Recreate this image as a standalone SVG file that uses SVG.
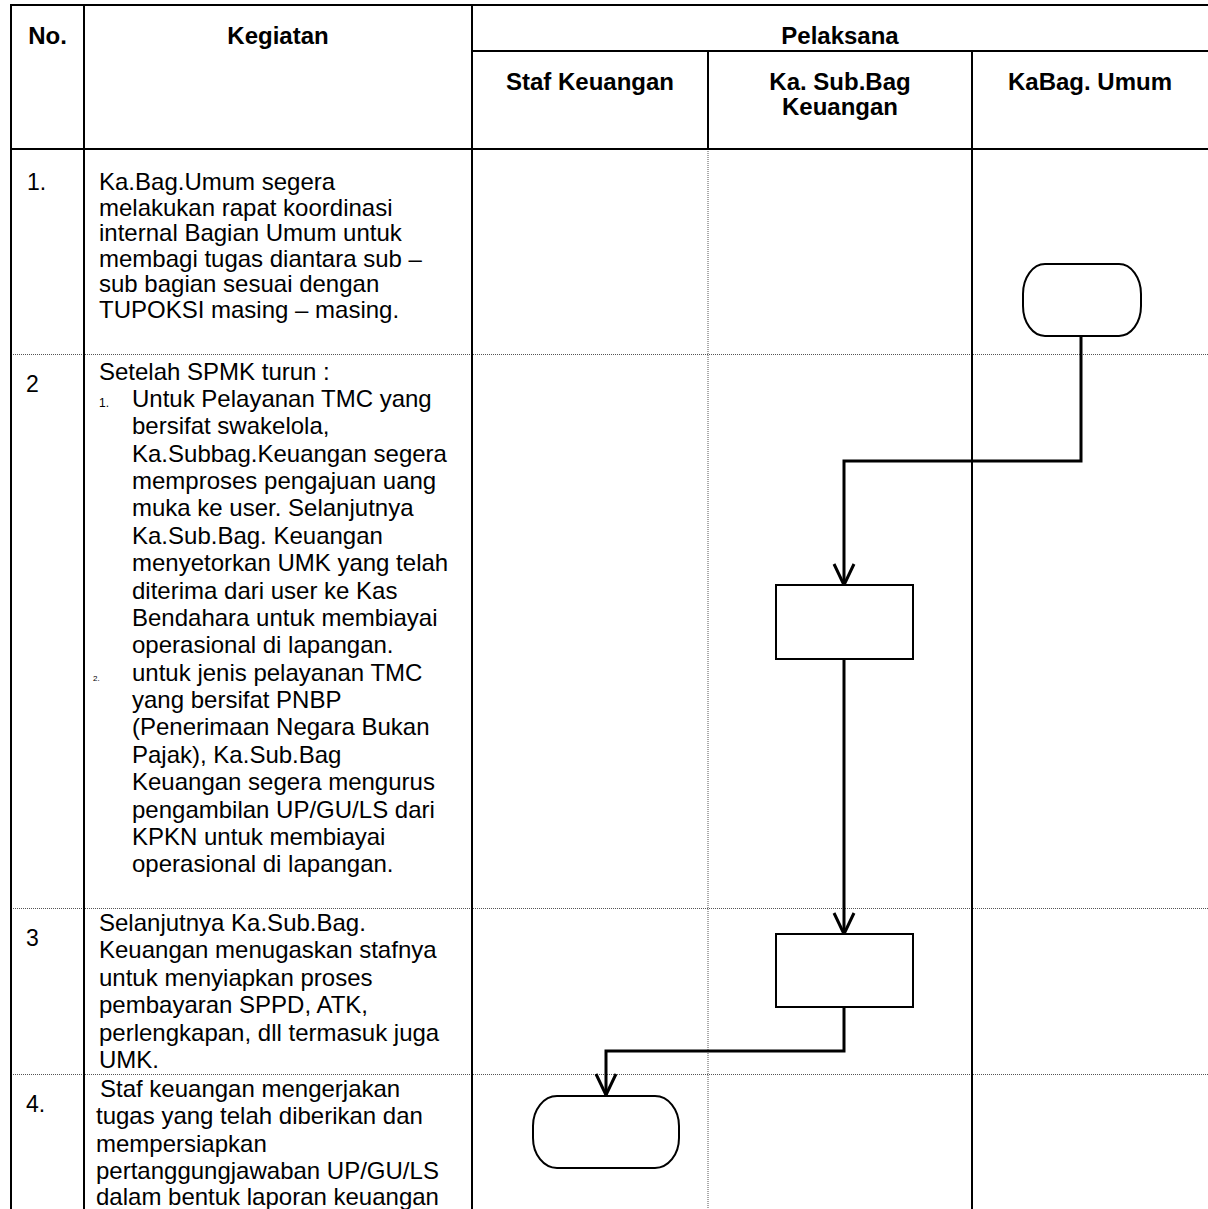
<svg xmlns="http://www.w3.org/2000/svg" width="1208" height="1209" viewBox="0 0 1208 1209">
<style>
.t{font-family:"Liberation Sans",Arial,sans-serif;font-size:24px;fill:#000}
.n{font-family:"Liberation Sans",Arial,sans-serif;font-size:23px;fill:#000}
.h{font-family:"Liberation Sans",Arial,sans-serif;font-size:24px;font-weight:bold;fill:#000;text-anchor:middle}
.solid{stroke:#000;stroke-width:2;fill:none}
.dot{stroke:#555;stroke-width:1;stroke-dasharray:1 1;fill:none}
.shape{fill:#fff;stroke:#000;stroke-width:2}
.conn{fill:none;stroke:#000;stroke-width:3}
</style>
<defs>
<marker id="arr" markerUnits="userSpaceOnUse" markerWidth="40" markerHeight="40" viewBox="-30 -20 40 40" refX="0" refY="0" orient="auto">
<path d="M-21,-10 L0,0 L-21,10" fill="none" stroke="#000" stroke-width="3"/>
</marker>
</defs>
<rect x="0" y="0" width="1208" height="1209" fill="#fff"/>
<g id="table">
<path class="dot" d="M11,354.5 H1208 M11,908.5 H1208 M11,1074.5 H1208 M708,149 V1209"/>
<path class="solid" d="M11,5 H1208 M472,51 H1208 M11,149 H1208 M11,4 V1209 M84,5 V1209 M472,5 V1209 M708,51 V149 M972,51 V1209"/>
</g>
<g id="header">
<text class="h" x="47.5" y="44">No.</text>
<text class="h" x="278" y="44">Kegiatan</text>
<text class="h" x="840" y="43.5">Pelaksana</text>
<text class="h" x="590" y="90">Staf Keuangan</text>
<text class="h" x="840" y="90">Ka. Sub.Bag</text>
<text class="h" x="840" y="114.5">Keuangan</text>
<text class="h" x="1090" y="90">KaBag. Umum</text>
</g>
<g id="row1">
<text class="n" x="27" y="190">1.</text>
<text class="t" x="99" y="190">Ka.Bag.Umum segera</text>
<text class="t" x="99" y="215.5">melakukan rapat koordinasi</text>
<text class="t" x="99" y="241">internal Bagian Umum untuk</text>
<text class="t" x="99" y="266.5">membagi tugas diantara sub –</text>
<text class="t" x="99" y="292">sub bagian sesuai dengan</text>
<text class="t" x="99" y="317.5">TUPOKSI masing – masing.</text>
</g>
<g id="row2">
<text class="n" x="26" y="391.5">2</text>
<text class="t" x="99" y="379.5">Setelah SPMK turun :</text>
<text class="t" x="99" y="406.9" style="font-size:12px">1.</text>
<text class="t" x="132" y="406.9">Untuk Pelayanan TMC yang</text>
<text class="t" x="132" y="434.3">bersifat swakelola,</text>
<text class="t" x="132" y="461.6">Ka.Subbag.Keuangan segera</text>
<text class="t" x="132" y="489">memproses pengajuan uang</text>
<text class="t" x="132" y="516.4">muka ke user. Selanjutnya</text>
<text class="t" x="132" y="543.8">Ka.Sub.Bag. Keuangan</text>
<text class="t" x="132" y="571.1">menyetorkan UMK yang telah</text>
<text class="t" x="132" y="598.5">diterima dari user ke Kas</text>
<text class="t" x="132" y="625.9">Bendahara untuk membiayai</text>
<text class="t" x="132" y="653.2">operasional di lapangan.</text>
<text class="t" x="93" y="680.6" style="font-size:8px">2.</text>
<text class="t" x="132" y="680.6">untuk jenis pelayanan TMC</text>
<text class="t" x="132" y="708">yang bersifat PNBP</text>
<text class="t" x="132" y="735.3">(Penerimaan Negara Bukan</text>
<text class="t" x="132" y="762.7">Pajak), Ka.Sub.Bag</text>
<text class="t" x="132" y="790.1">Keuangan segera mengurus</text>
<text class="t" x="132" y="817.5">pengambilan UP/GU/LS dari</text>
<text class="t" x="132" y="844.8">KPKN untuk membiayai</text>
<text class="t" x="132" y="872.2">operasional di lapangan.</text>
</g>
<g id="row3">
<text class="n" x="26" y="946">3</text>
<text class="t" x="99" y="930.5">Selanjutnya Ka.Sub.Bag.</text>
<text class="t" x="99" y="958">Keuangan menugaskan stafnya</text>
<text class="t" x="99" y="985.5">untuk menyiapkan proses</text>
<text class="t" x="99" y="1013">pembayaran SPPD, ATK,</text>
<text class="t" x="99" y="1040.5">perlengkapan, dll termasuk juga</text>
<text class="t" x="99" y="1068">UMK.</text>
</g>
<g id="row4">
<text class="n" x="26" y="1111.5">4.</text>
<text class="t" x="100" y="1096.5">Staf keuangan mengerjakan</text>
<text class="t" x="96" y="1124">tugas yang telah diberikan dan</text>
<text class="t" x="96" y="1151.5">mempersiapkan</text>
<text class="t" x="96" y="1179">pertanggungjawaban UP/GU/LS</text>
<text class="t" x="96" y="1205">dalam bentuk laporan keuangan</text>
</g>
<g id="connectors">
<path class="conn" d="M1081,336 V461 H844 V585" marker-end="url(#arr)"/>
<path class="conn" d="M844,659 V934" marker-end="url(#arr)"/>
<path class="conn" d="M844,1007 V1051 H606 V1095" marker-end="url(#arr)"/>
</g>
<g id="start-kabag">
<rect class="shape" x="1023" y="264" width="118" height="72" rx="22" ry="30"/>
</g>
<g id="process-1">
<rect class="shape" x="776" y="585" width="137" height="74"/>
</g>
<g id="process-2">
<rect class="shape" x="776" y="934" width="137" height="73"/>
</g>
<g id="end-staf">
<rect class="shape" x="533" y="1096" width="146" height="72" rx="24" ry="30"/>
</g>
</svg>
